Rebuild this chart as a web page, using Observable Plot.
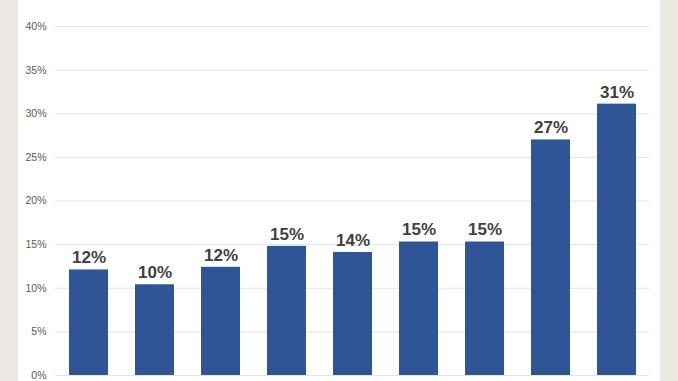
<!DOCTYPE html>
<html><head><meta charset="utf-8">
<script src="https://cdn.jsdelivr.net/npm/d3@7"></script>
<script src="https://cdn.jsdelivr.net/npm/@observablehq/plot@0.6"></script>
<style>
html,body{margin:0;padding:0;background:#ece9e2;width:678px;height:381px;overflow:hidden;}
#chart{position:absolute;left:18px;top:0;width:642px;height:381px;background:#fff;}
#chart svg{font-family:Arial,"Liberation Sans",sans-serif;}
</style></head><body><div id="chart"></div>
<script>
const categories = ["1","2","3","4","5","6","7","8","9"];
const values = [12.1, 10.4, 12.4, 14.8, 14.1, 15.3, 15.3, 27.0, 31.1];
const labels = ["12%","10%","12%","15%","14%","15%","15%","27%","31%"];
const yTicks = [0,5,10,15,20,25,30,35,40];
const data = categories.map((c,i)=>({c, v: values[i], l: labels[i]}));
const plot = Plot.plot({
  width: 642, height: 381,
  marginLeft: 37, marginRight: 11, marginTop: 26, marginBottom: 6,
  x: {domain: categories, paddingInner: 0.41, paddingOuter: 0.205, axis: null},
  y: {domain: [0,40], ticks: yTicks, tickFormat: d => d + "%", label: null},
  marks: [
    Plot.gridY(yTicks, {stroke: "#e3e3e3", strokeOpacity: 1, strokeWidth: 1}),
    Plot.axisY(yTicks, {tickSize: 0, tickPadding: 0, dx: -9, fill: "#595959", fontSize: 10.5, tickFormat: d => d + "%", label: null}),
    Plot.barY(data, {x: "c", y: "v", fill: "#2f5597"}),
    Plot.text(data, {x: "c", y: "v", text: "l", dy: -12, fontSize: 17, fontWeight: "bold", fill: "#404040"})
  ]
});
document.getElementById("chart").appendChild(plot);
</script></body></html>
